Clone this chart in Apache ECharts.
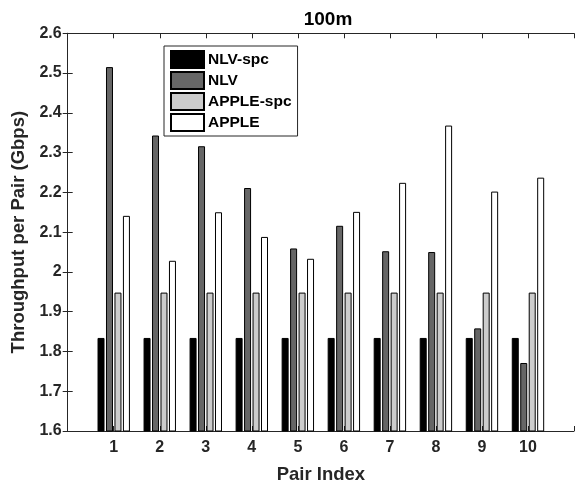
<!DOCTYPE html>
<html>
<head>
<meta charset="utf-8">
<script src="https://cdn.jsdelivr.net/npm/echarts@6/dist/echarts.min.js"></script>
<style>html,body{margin:0;padding:0;background:#fff;}#c{width:577px;height:489px;}</style>
</head>
<body>
<div id="c"></div>
<script>
const pairIndex = [1, 2, 3, 4, 5, 6, 7, 8, 9, 10];
const nlvSpc   = [1.834, 1.834, 1.834, 1.834, 1.834, 1.834, 1.834, 1.834, 1.834, 1.834];
const nlv      = [2.515, 2.343, 2.316, 2.211, 2.059, 2.116, 2.052, 2.050, 1.858, 1.771];
const appleSpc = [1.948, 1.948, 1.948, 1.948, 1.948, 1.948, 1.948, 1.948, 1.948, 1.948];
const apple    = [2.141, 2.028, 2.150, 2.088, 2.033, 2.151, 2.224, 2.368, 2.202, 2.237];
const seriesNames = ['NLV-spc', 'NLV', 'APPLE-spc', 'APPLE'];
const seriesColors = ['#000000', '#666666', '#cccccc', '#ffffff'];
const yTicks = [1.6, 2.6, 0.1];

const font = 'Liberation Sans, Arial, Helvetica, sans-serif';
const axisColor = '#262626';
const chart = echarts.init(document.getElementById('c'), null, {renderer: 'canvas'});

function mk(name, vals, color) {
  return {
    name: name,
    type: 'bar',
    xAxisIndex: 0,
    yAxisIndex: 0,
    barWidth: 7,
    barGap: '21%',
    itemStyle: {color: color, borderColor: '#000', borderWidth: 1},
    data: pairIndex.map((p, i) => [p, vals[i]])
  };
}

const xCommon = {
  type: 'value', min: 0, max: 11, interval: 1,
  axisLine: {show: true, lineStyle: {color: axisColor, width: 1}},
  axisTick: {show: true, inside: true, length: 5, lineStyle: {color: axisColor}},
  splitLine: {show: false}
};
const yCommon = {
  type: 'value', min: yTicks[0], max: yTicks[1], interval: yTicks[2],
  axisLine: {show: true, lineStyle: {color: axisColor, width: 1}},
  axisTick: {show: true, inside: true, length: 5, lineStyle: {color: axisColor}},
  splitLine: {show: false}
};

chart.setOption({
  animation: false,
  backgroundColor: '#fff',
  title: {
    text: '100m', left: 323, top: 5, textAlign: 'center',
    textStyle: {fontFamily: font, fontWeight: 'bold', fontSize: 19, color: '#000'}
  },
  grid: {left: 67.7, top: 33.3, width: 510, height: 401, containLabel: false},
  legend: {
    orient: 'vertical', left: 164, top: 46,
    padding: [4, 6, 4, 6],
    itemWidth: 33, itemHeight: 17, itemGap: 2,
    backgroundColor: '#fff', borderColor: axisColor, borderWidth: 1,
    icon: 'rect',
    textStyle: {fontFamily: font, fontWeight: 'bold', fontSize: 15.5, lineHeight: 17, color: '#000', padding: [0, 0, 0, -1]},
    data: seriesNames
  },
  xAxis: [
    Object.assign({}, xCommon, {
      position: 'bottom',
      name: 'Pair Index', nameLocation: 'middle', nameGap: 34,
      nameTextStyle: {fontFamily: font, fontWeight: 'bold', fontSize: 18.5, color: '#262626'},
      axisLabel: {
        margin: 9, fontFamily: font, fontWeight: 'bold', fontSize: 16, color: '#262626',
        formatter: v => (v >= 1 && v <= 10) ? String(v) : ''
      }
    }),
    Object.assign({}, xCommon, {position: 'top', axisLabel: {show: false}})
  ],
  yAxis: [
    Object.assign({}, yCommon, {
      position: 'left',
      name: 'Throughput per Pair (Gbps)', nameLocation: 'middle', nameGap: 37,
      nameTextStyle: {fontFamily: font, fontWeight: 'bold', fontSize: 18.5, color: '#262626'},
      axisLabel: {margin: 6, fontFamily: font, fontWeight: 'bold', fontSize: 16, color: '#262626'}
    }),
    Object.assign({}, yCommon, {position: 'right', axisLabel: {show: false}})
  ],
  series: [
    mk(seriesNames[0], nlvSpc, seriesColors[0]),
    mk(seriesNames[1], nlv, seriesColors[1]),
    mk(seriesNames[2], appleSpc, seriesColors[2]),
    mk(seriesNames[3], apple, seriesColors[3])
  ]
});
</script>
</body>
</html>
